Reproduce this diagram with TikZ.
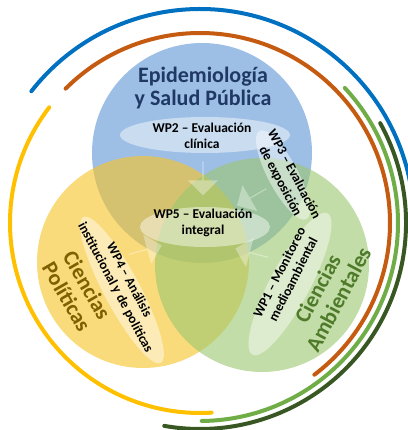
\documentclass[tikz,border=0pt]{standalone}
\usepackage{fontspec}
\setmainfont{Carlito}
\usetikzlibrary{shapes.geometric,shapes.arrows}
\definecolor{arcblue}{HTML}{0070C0}
\definecolor{arcorange}{HTML}{C55A11}
\definecolor{arcyellow}{HTML}{FFC000}
\definecolor{arcgreen}{HTML}{70AD47}
\definecolor{arcdkgreen}{HTML}{385723}
\definecolor{cblue}{HTML}{6FA0D8}
\definecolor{cyellow}{HTML}{F7C52A}
\definecolor{cgreen}{HTML}{9BC76E}
\definecolor{tblue}{HTML}{1F3864}
\definecolor{tbrown}{HTML}{7F6000}
\definecolor{tgreen}{HTML}{4E7A2A}
\tikzset{
  ring/.style={line width=4bp,line cap=round},
  bigtxt/.style={font=\fontsize{22bp}{23.5bp}\selectfont\bfseries,align=center,inner sep=0pt},
  wptxt/.style={font=\fontsize{13.5bp}{15.5bp}\selectfont\bfseries,align=center,inner sep=0pt,text=black},
  glow/.style={ellipse,fill=white,fill opacity=0.45,draw=none,inner sep=0pt},
  flow/.style={single arrow,fill=white,fill opacity=0.35,draw=none,minimum height=34bp,minimum width=30bp,single arrow head extend=5bp,inner sep=0pt}
}
\begin{document}
\begin{tikzpicture}[x=1bp,y=1bp]
\useasboundingbox (0,0) rectangle (408,430);
\clip (0,0) rectangle (408,430);
\coordinate (C) at (200,207);
% circles
\fill[cblue,fill opacity=0.68] (202,277) circle[radius=110];
\fill[cyellow,fill opacity=0.62] (143,168) circle[radius=106];
\fill[cgreen,fill opacity=0.6] (262,165) circle[radius=107];
% glows
\node[glow,minimum width=170bp,minimum height=36bp] (g2) at (205,295) {};
\node[glow,minimum width=130bp,minimum height=40bp] (g5) at (205,203) {};
\node[glow,minimum width=100bp,minimum height=30bp,rotate=-62] (g3) at (283,255) {};
\node[glow,minimum width=165bp,minimum height=36bp,rotate=-62] (g4) at (122,140) {};
\node[glow,minimum width=160bp,minimum height=40bp,rotate=62] (g1) at (290,146) {};
% arrows
\node[flow,rotate=-90] (a2) at (203,252) {};
\node[flow,rotate=210] (a3) at (252,233) {};
\node[flow,rotate=15] (a4) at (145,180) {};
\node[flow,rotate=165] (a1) at (252,177) {};
% rings
\draw[ring,arcblue] (C) ++(142:214) arc[start angle=142,end angle=5,radius=214];
\draw[ring,arcorange] (C) ++(135:190) arc[start angle=135,end angle=-53,radius=190];
\draw[ring,arcyellow] (C) ++(142.5:190) arc[start angle=142.5,end angle=273.5,radius=190];
\draw[ring,arcgreen] (C) ++(43:198) arc[start angle=43,end angle=-89.5,radius=198];
\draw[ring,arcdkgreen] (C) ++(29:206) arc[start angle=29,end angle=-100,radius=206];
% texts
\node[bigtxt,text=tblue] (epi) at (203,342) {Epidemiología\\y Salud Pública};
\node[wptxt] (wp2) at (202,294) {WP2 – Evaluación\\clínica};
\node[wptxt,rotate=-62] (wp3) at (287,252) {WP3 – Evaluación\\de exposición};
\node[wptxt] (wp5) at (203,207) {WP5 – Evaluación\\integral};
\node[wptxt,rotate=-62] (wp4) at (122,146) {WP4 – Análisis\\institucional y de políticas};
\node[bigtxt,text=tbrown,rotate=-60] (cp) at (77,139) {Ciencias\\Políticas};
\node[wptxt,rotate=63] (wp1) at (286,154) {WP1 – Monitoreo\\medioambiental};
\node[bigtxt,text=tgreen,rotate=62] (ca) at (328,136) {Ciencias\\Ambientales};
\end{tikzpicture}
\end{document}
